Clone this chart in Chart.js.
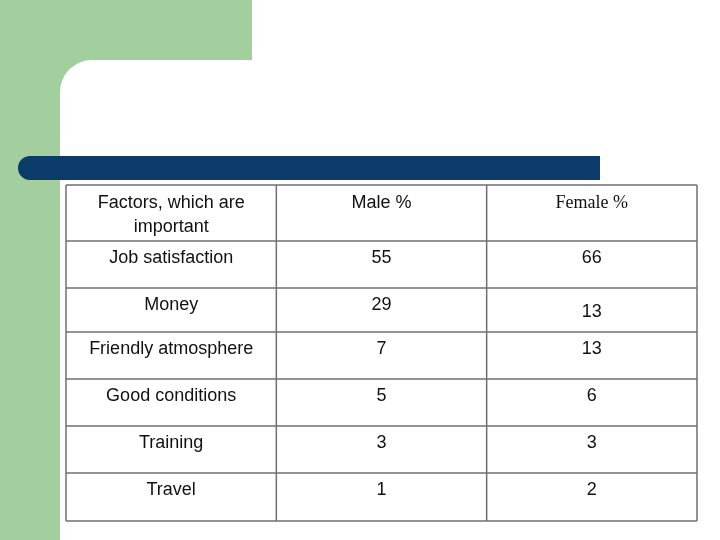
<!DOCTYPE html>
<html>
<head>
<meta charset="utf-8">
<script src="https://cdn.jsdelivr.net/npm/chart.js@4"></script>
<style>
  html, body { margin: 0; padding: 0; background: #fff; }
  #wrap { width: 720px; height: 540px; position: relative; }
</style>
</head>
<body>
<div id="wrap"><canvas id="c" width="720" height="540"></canvas></div>
<script>
// table content
const headers   = ['Factors, which are\nimportant', 'Male %', 'Female %'];
const factors   = ['Job satisfaction', 'Money', 'Friendly atmosphere', 'Good conditions', 'Training', 'Travel'];
const maleVals  = [55, 29, 7, 5, 3, 1];
const femaleVals = [66, 13, 13, 6, 3, 2];
// row boundaries (relative units, header row is taller)
const rowEdges  = [0, 56, 103, 147, 194, 241, 288, 336];
const colEdges  = [0, 1, 2, 3];

const LINE = '#6f6f6f';
const GREEN = '#a2cf9d';
const BAR = '#0b3b69';

const tablePlugin = {
  id: 'table',
  beforeDraw(chart) {
    const ctx = chart.ctx;
    ctx.save();
    ctx.fillStyle = '#fff';
    ctx.fillRect(0, 0, 720, 540);
    // green slide decoration
    ctx.fillStyle = GREEN;
    ctx.fillRect(0, 0, 252, 100);
    ctx.fillRect(0, 0, 100, 540);
    ctx.fillStyle = '#fff';
    ctx.beginPath();
    ctx.moveTo(60, 100);
    ctx.arcTo(60, 60, 100, 60, 32);
    ctx.lineTo(252, 60);
    ctx.lineTo(252, 540);
    ctx.lineTo(60, 540);
    ctx.closePath();
    ctx.fill();
    ctx.fillRect(252, 60, 468, 480);
    // dark title bar
    ctx.fillStyle = BAR;
    ctx.beginPath();
    ctx.moveTo(30, 156);
    ctx.lineTo(600, 156);
    ctx.lineTo(600, 180);
    ctx.lineTo(30, 180);
    ctx.arc(30, 168, 12, Math.PI / 2, Math.PI * 1.5);
    ctx.fill();
    ctx.restore();
  },
  afterDraw(chart) {
    const ctx = chart.ctx;
    const xs = chart.scales.x, ys = chart.scales.y;
    const X = v => xs.getPixelForValue(v);
    const Y = v => ys.getPixelForValue(v);
    ctx.save();
    ctx.strokeStyle = LINE;
    ctx.lineWidth = 1.5;
    rowEdges.forEach(r => {
      ctx.beginPath(); ctx.moveTo(X(0), Y(r)); ctx.lineTo(X(3), Y(r)); ctx.stroke();
    });
    colEdges.forEach(c => {
      ctx.beginPath(); ctx.moveTo(X(c), Y(0)); ctx.lineTo(X(c), Y(336)); ctx.stroke();
    });
    ctx.fillStyle = '#111';
    ctx.textAlign = 'center';
    ctx.textBaseline = 'middle';
    // header
    headers.forEach((h, i) => {
      ctx.font = i === 2 ? '18px "Liberation Serif", serif' : '18px "Liberation Sans", Arial, sans-serif';
      const lines = h.split('\n');
      lines.forEach((l, k) => ctx.fillText(l, X(i + 0.5), Y(0) + 18 + k * 24));
    });
    ctx.font = '18px "Liberation Sans", Arial, sans-serif';
    factors.forEach((f, i) => {
      const top = Y(rowEdges[i + 1]);
      ctx.fillText(f, X(0.5), top + 17);
      ctx.fillText(String(maleVals[i]), X(1.5), top + 17);
      ctx.fillText(String(femaleVals[i]), X(2.5), top + (i === 1 ? 24 : 17));
    });
    ctx.restore();
  }
};

new Chart(document.getElementById('c'), {
  type: 'scatter',
  data: { datasets: [{ data: [], pointRadius: 0 }] },
  options: {
    responsive: false,
    animation: false,
    layout: { padding: { left: 66, right: 23, top: 185, bottom: 19 } },
    plugins: { legend: { display: false }, tooltip: { enabled: false } },
    scales: {
      x: { type: 'linear', min: 0, max: 3, display: false },
      y: { type: 'linear', min: 0, max: 336, reverse: true, display: false }
    }
  },
  plugins: [tablePlugin]
});
</script>
</body>
</html>
